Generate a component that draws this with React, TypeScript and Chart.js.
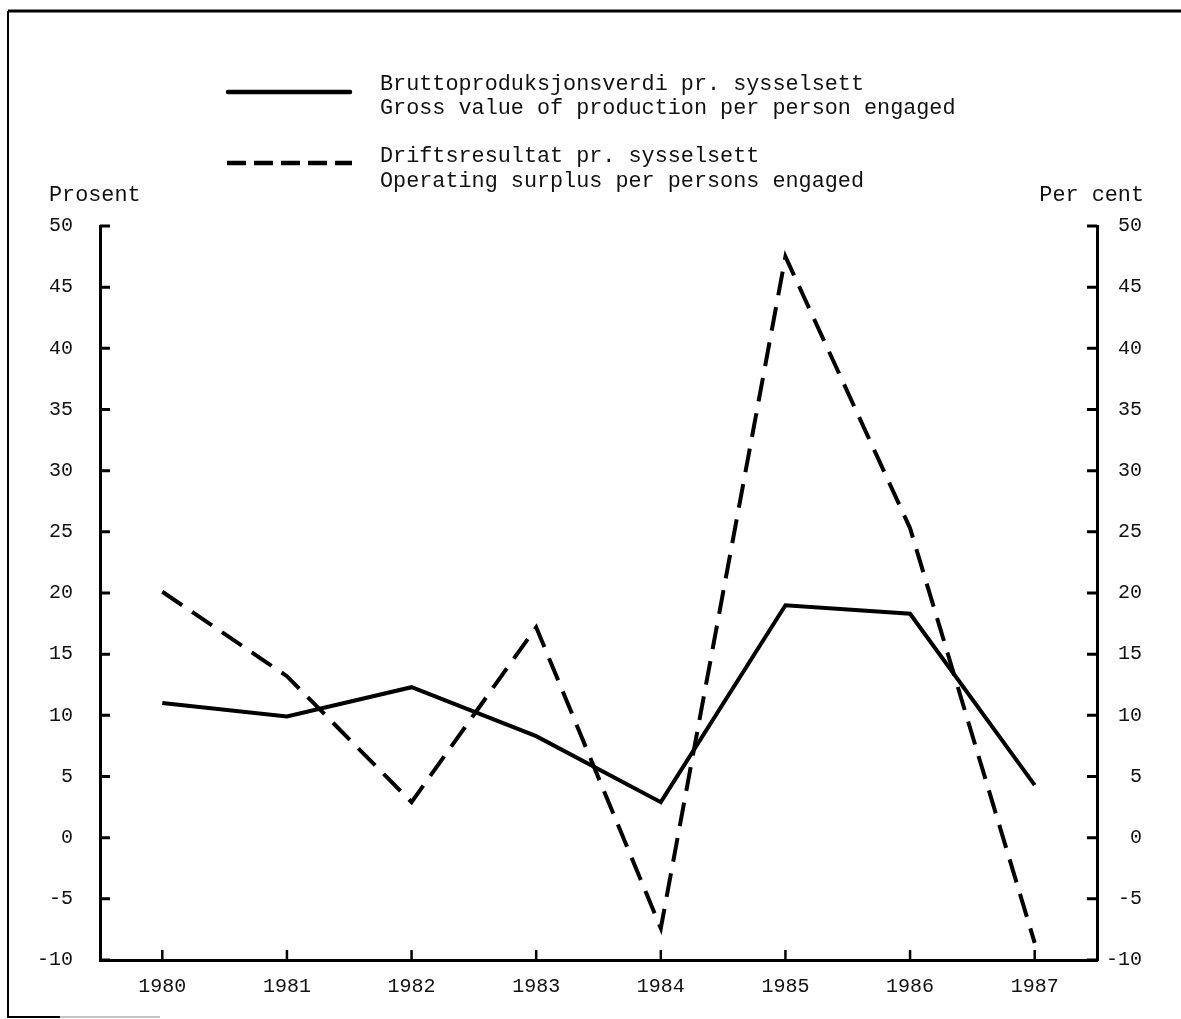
import React, { useEffect, useRef } from "react";
import { Chart, registerables } from "chart.js";

Chart.register(...registerables);

const years = ["1980", "1981", "1982", "1983", "1984", "1985", "1986", "1987"];
const grossValue = [11.0, 9.9, 12.3, 8.3, 2.9, 19.0, 18.3, 4.3];
const operatingSurplus = [20.1, 13.2, 2.9, 17.2, -7.4, 47.5, 25.3, -8.6];
const legendSolid = ["Bruttoproduksjonsverdi pr. sysselsett", "Gross value of production per person engaged"];
const legendDashed = ["Driftsresultat pr. sysselsett", "Operating surplus per persons engaged"];
const leftTitle = "Prosent";
const rightTitle = "Per cent";

const FONT = "'Liberation Mono', 'DejaVu Sans Mono', monospace";
const INK = "#111";

const decorPlugin = {
  id: "decor",
  afterDraw(chart: any) {
    const ctx = chart.ctx as CanvasRenderingContext2D;
    const { left, right, bottom } = chart.chartArea;
    const y = chart.scales.y;
    const x = chart.scales.x;
    ctx.save();
    ctx.strokeStyle = "#000";
    ctx.lineWidth = 3;
    ctx.lineCap = "butt";
    // inward ticks on y axes
    y.ticks.forEach((t: any) => {
      const py = y.getPixelForValue(t.value);
      ctx.beginPath();
      ctx.moveTo(left, py);
      ctx.lineTo(left + 10, py);
      ctx.moveTo(right, py);
      ctx.lineTo(right - 10, py);
      ctx.stroke();
    });
    // inward ticks on x axis
    ctx.lineWidth = 2.5;
    years.forEach((_, i) => {
      const px = x.getPixelForValue(i);
      ctx.beginPath();
      ctx.moveTo(px, bottom);
      ctx.lineTo(px, bottom - 10);
      ctx.stroke();
    });

    // frame
    ctx.lineWidth = 3;
    ctx.beginPath();
    ctx.moveTo(8, 11);
    ctx.lineTo(1181, 11);
    ctx.stroke();
    ctx.lineWidth = 2;
    ctx.beginPath();
    ctx.moveTo(8, 11);
    ctx.lineTo(8, 1017);
    ctx.lineTo(60, 1017);
    ctx.stroke();
    ctx.strokeStyle = "#888";
    ctx.lineWidth = 1;
    ctx.beginPath();
    ctx.moveTo(60, 1017);
    ctx.lineTo(160, 1017);
    ctx.stroke();

    // legend
    ctx.strokeStyle = "#000";
    ctx.lineWidth = 4.5;
    ctx.lineCap = "round";
    ctx.beginPath();
    ctx.moveTo(228, 92);
    ctx.lineTo(350, 92);
    ctx.stroke();
    ctx.lineCap = "butt";
    ctx.setLineDash([19, 8]);
    ctx.beginPath();
    ctx.moveTo(227, 163);
    ctx.lineTo(352, 163);
    ctx.stroke();
    ctx.setLineDash([]);

    ctx.fillStyle = INK;
    ctx.font = `21.8px ${FONT}`;
    ctx.textBaseline = "middle";
    ctx.textAlign = "left";
    ctx.fillText(legendSolid[0], 380, 84);
    ctx.fillText(legendSolid[1], 380, 108);
    ctx.fillText(legendDashed[0], 380, 156);
    ctx.fillText(legendDashed[1], 380, 181);

    ctx.fillText(leftTitle, 49, 195);
    ctx.textAlign = "right";
    ctx.fillText(rightTitle, 1144, 195);
    ctx.restore();
  },
};

export default function App() {
  const ref = useRef<HTMLCanvasElement | null>(null);
  useEffect(() => {
    if (!ref.current) return;
    const tickFont = { family: FONT, size: 20 };
    const chart = new Chart(ref.current, {
      type: "line",
      data: {
        labels: years,
        datasets: [
          {
            label: legendSolid[1],
            data: grossValue,
            borderColor: "#000",
            borderWidth: 4,
            pointRadius: 0,
            tension: 0,
            yAxisID: "y",
          },
          {
            label: legendDashed[1],
            data: operatingSurplus,
            borderColor: "#000",
            borderWidth: 4,
            borderDash: [24, 12],
            pointRadius: 0,
            tension: 0,
            yAxisID: "y",
          },
        ],
      },
      options: {
        responsive: false,
        animation: false,
        layout: { padding: { top: 226, left: 0, right: 39, bottom: 0 } },
        plugins: { legend: { display: false }, tooltip: { enabled: false }, title: { display: false } },
        scales: {
          x: {
            type: "category",
            offset: true,
            grid: { drawOnChartArea: false, drawTicks: false },
            border: { display: true, color: "#000", width: 3 },
            ticks: { font: tickFont, color: INK, padding: 15, maxRotation: 0, autoSkip: false },
            afterFit: (s: any) => { s.height = 59; },
          },
          y: {
            position: "left",
            min: -10,
            max: 50,
            grid: { drawOnChartArea: false, drawTicks: false },
            border: { display: true, color: "#000", width: 3 },
            ticks: { stepSize: 5, font: tickFont, color: INK, padding: 27 },
            afterFit: (s: any) => { s.width = 100; },
          },
          y2: {
            position: "right",
            min: -10,
            max: 50,
            grid: { drawOnChartArea: false, drawTicks: false },
            border: { display: true, color: "#000", width: 3 },
            ticks: { stepSize: 5, font: tickFont, color: INK, padding: 14, crossAlign: "far" },
            afterFit: (s: any) => { s.width = 45; },
          },
        },
      },
      plugins: [decorPlugin],
    });
    return () => chart.destroy();
  }, []);
  return (
    <div style={{ position: "absolute", left: 0, top: 0, width: 1181, height: 1019, background: "#fff" }}>
      <canvas ref={ref} width={1181} height={1019} style={{ display: "block" }} />
    </div>
  );
}
